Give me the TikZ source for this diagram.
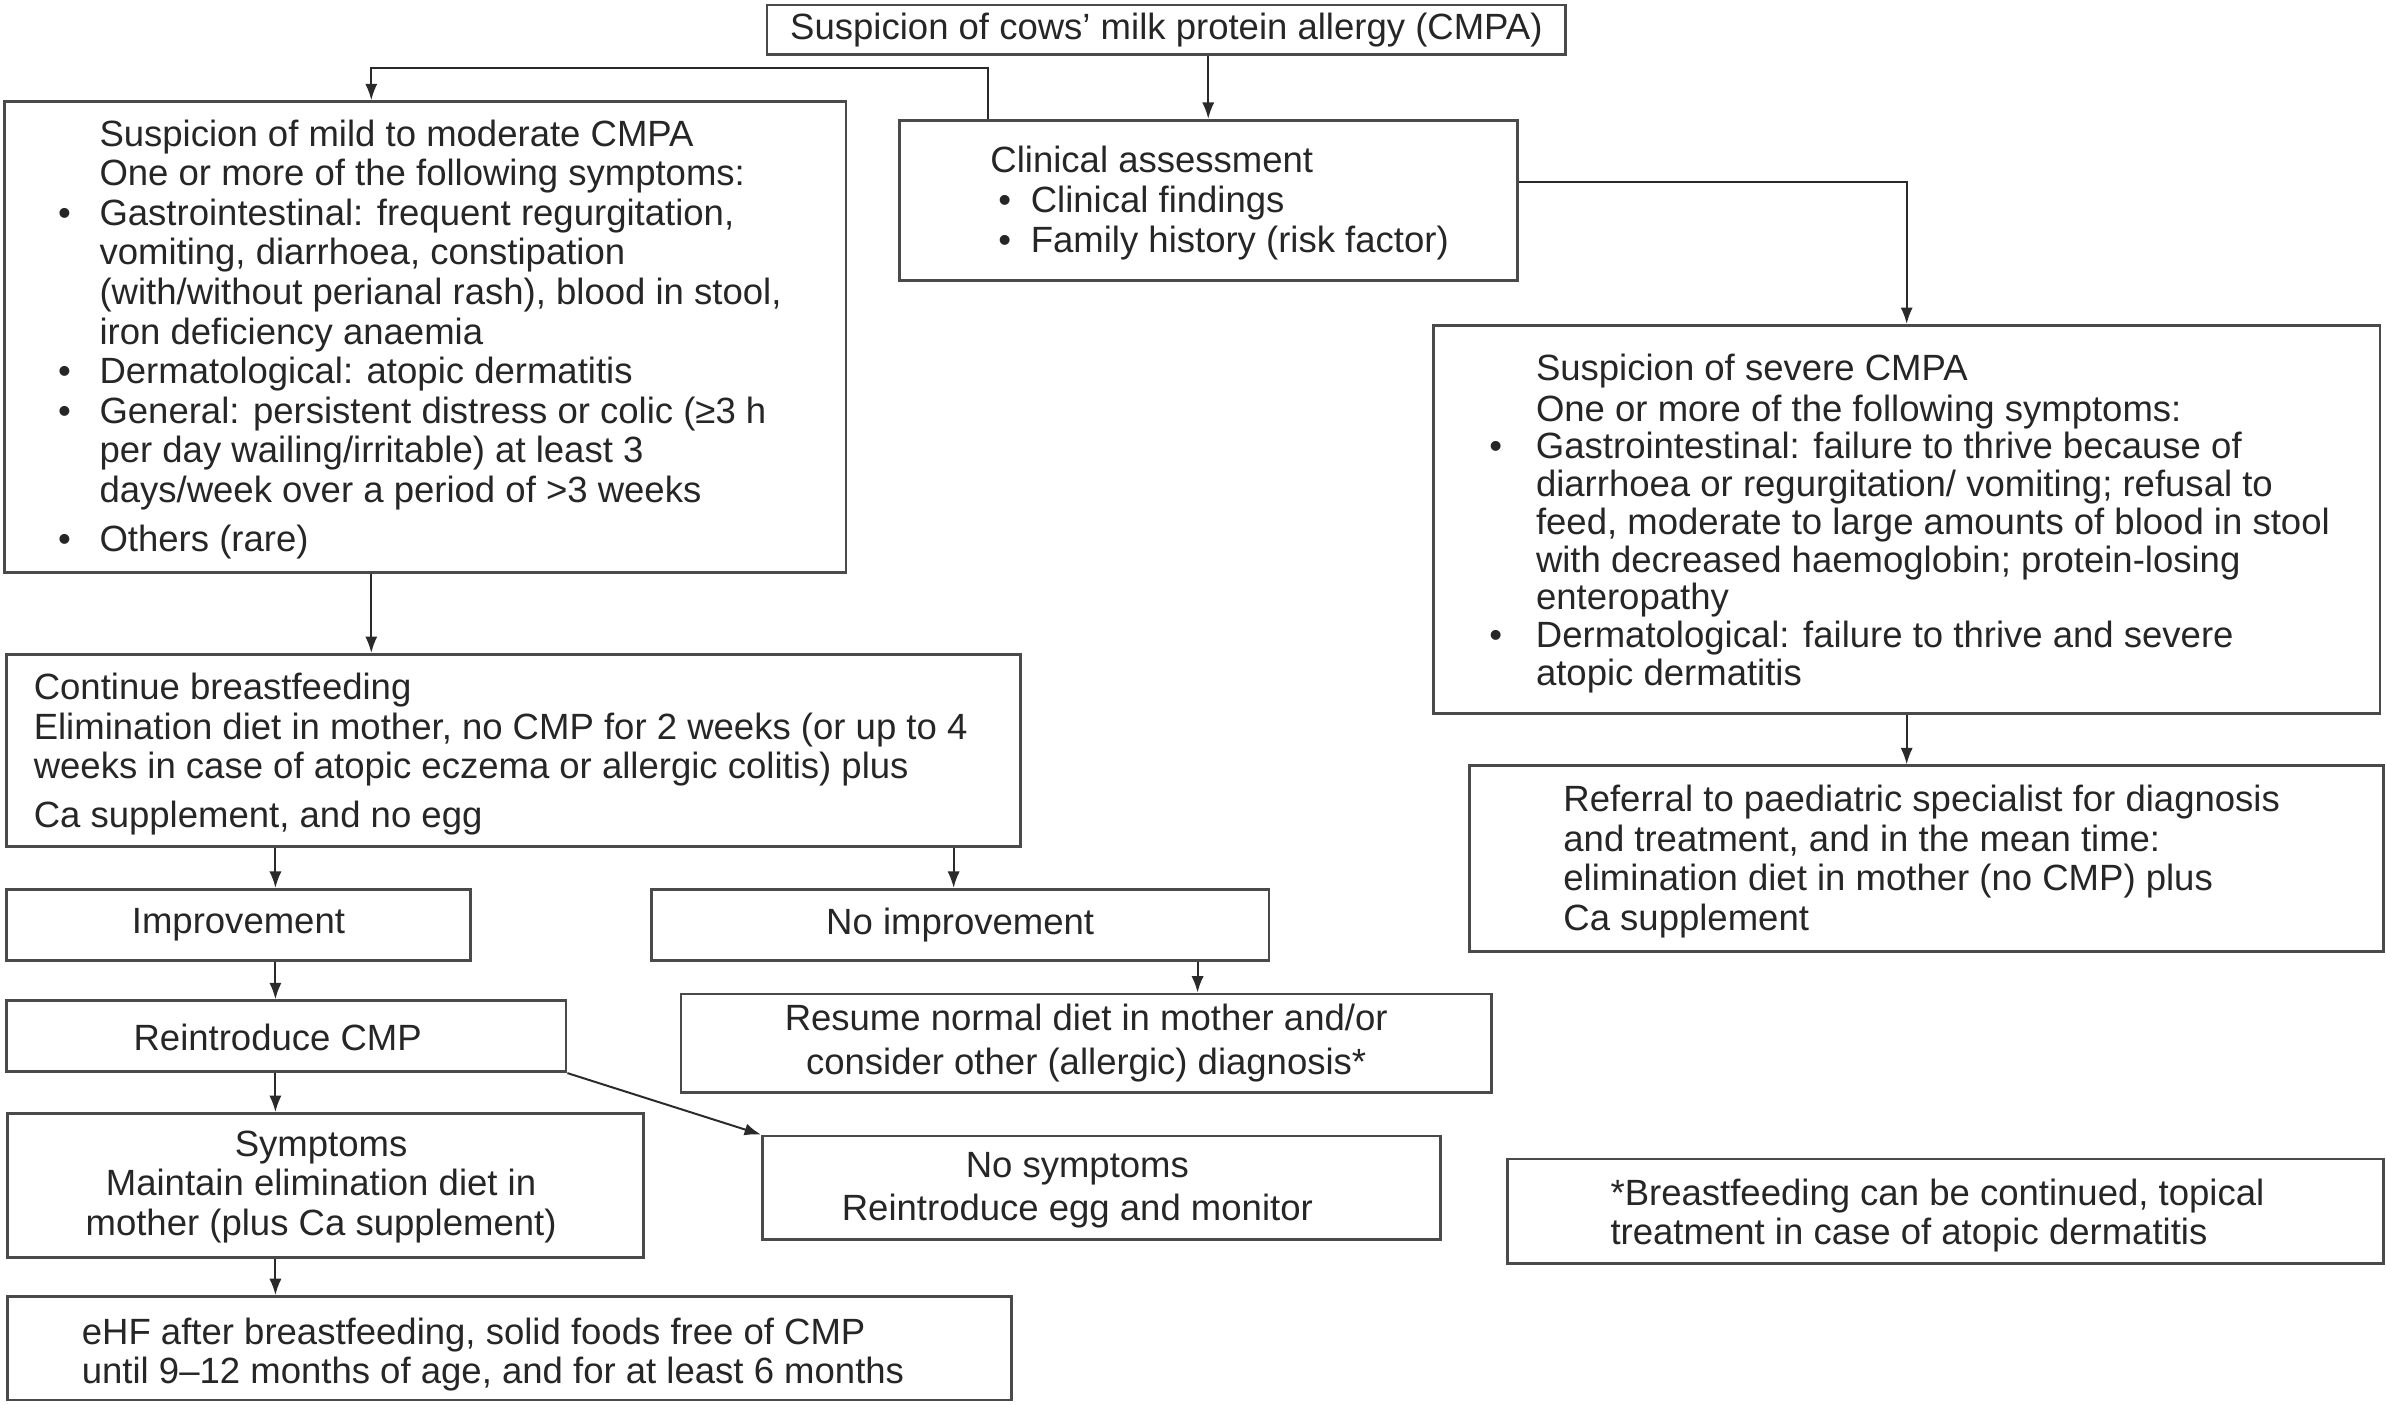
\documentclass[tikz,border=0pt]{standalone}
\usepackage{fontspec}
\setmainfont{Liberation Sans}
\usetikzlibrary{arrows.meta}
\definecolor{boxc}{HTML}{4A4A4A}
\definecolor{txtc}{HTML}{262626}
\definecolor{linec}{HTML}{2A2A2A}
\newcommand{\bulx}[1]{\llap{•\hspace{#1}}}
\newcommand{\cbul}{\makebox[13.25pt][l]{\hspace{2.6pt}•}}
\begin{document}
\begin{tikzpicture}[x=0.5pt,y=-0.5pt,
  box/.style={draw=boxc, line width=0.9pt, inner sep=0pt, rectangle, text=txtc, font=\fontsize{12}{13}\selectfont, align=center},
  tl/.style={anchor=north west, inner sep=0pt, align=left, text=txtc, font=\fontsize{12}{13}\selectfont},
  tc/.style={inner sep=0pt, align=center, text=txtc, font=\fontsize{12}{13}\selectfont},
  arr/.style={draw=linec, line width=0.65pt, -{Latex[length=5.4pt,width=4pt]}}]
\useasboundingbox (0,0) rectangle (1568,923);

% boxes
\node[box, minimum width=262.5pt, minimum height=16.35pt] (top) at (766.5,19.65) {Suspicion of cows' milk protein allergy (CMPA)};

\node[box, minimum width=276.5pt, minimum height=154.6pt] (mild) at (279.5,221.4) {};
\node[tl] (mildt) at (65,77.5) {\strut Suspicion of mild to moderate CMPA\\
One or more of the following symptoms:\\
\bulx{9.4pt}Gastrointestinal: frequent regurgitation,\\
vomiting, diarrhoea, constipation\\
(with/without perianal rash), blood in stool,\\
iron deficiency anaemia\\
\bulx{9.4pt}Dermatological: atopic dermatitis\\
\bulx{9.4pt}General: persistent distress or colic (≥3 h\\
per day wailing/irritable) at least 3\\
days/week over a period of >3 weeks\\[3pt]
\bulx{9.4pt}Others (rare)};

\node[box, minimum width=203pt, minimum height=52.75pt] (clin) at (794,131.75) {};
\node[tl] (clint) at (650.5,95) {\strut Clinical assessment\\
\cbul Clinical findings\\
\cbul Family history (risk factor)};

\node[box, minimum width=311pt, minimum height=127.6pt] (sev) at (1253,341.4) {};
\node[tl, font=\fontsize{12}{12.4}\selectfont] (sevt) at (1009,232.1) {\strut Suspicion of severe CMPA\\
One or more of the following symptoms:\\
\bulx{11.1pt}Gastrointestinal: failure to thrive because of\\
diarrhoea or regurgitation/ vomiting; refusal to\\
feed, moderate to large amounts of blood in stool\\
with decreased haemoglobin; protein-losing\\
enteropathy\\
\bulx{11.1pt}Dermatological: failure to thrive and severe\\
atopic dermatitis};

\node[box, minimum width=300.35pt, minimum height=61.15pt] (ref) at (1266.15,564.35) {};
\node[tl] (reft) at (1027,514.8) {\strut Referral to paediatric specialist for diagnosis\\
and treatment, and in the mean time:\\
elimination diet in mother (no CMP) plus\\
Ca supplement};

\node[box, minimum width=333.05pt, minimum height=63.2pt] (cont) at (337.45,493.2) {};
\node[tl] (contt) at (21.8,441.2) {\strut Continue breastfeeding\\
Elimination diet in mother, no CMP for 2 weeks (or up to 4\\
weeks in case of atopic eczema or allergic colitis) plus\\[3pt]
Ca supplement, and no egg};

\node[box, minimum width=152.3pt, minimum height=23.45pt] (impr) at (156.7,607.85) {Improvement};
\node[box, minimum width=203pt, minimum height=23.45pt] (noimpr) at (631,607.85) {No improvement};

\node[box, minimum width=183.8pt, minimum height=23.35pt] (reint) at (188.2,680.95) {};
\node[tc] (reintt) at (182.5,681.5) {Reintroduce CMP};

\node[box, minimum width=266.2pt, minimum height=32.4pt] (res) at (713.8,685.6) {Resume normal diet in mother and/or\\[1.5pt] consider other (allergic) diagnosis*};

\node[box, minimum width=209pt, minimum height=47.4pt] (sym) at (214,779.1) {};
\node[tc] (symt) at (211,780) {Symptoms\\ Maintain elimination diet in\\ mother (plus Ca supplement)};

\node[box, minimum width=222.75pt, minimum height=33.95pt] (nosym) at (723.75,780.45) {};
\node[tc] (nosymt) at (708,782) {No symptoms\\[1pt] Reintroduce egg and monitor};

\node[box, minimum width=287.85pt, minimum height=34.25pt] (foot) at (1278.65,795.95) {};
\node[tl] (foott) at (1058,773.3) {\strut *Breastfeeding can be continued, topical\\
treatment in case of atopic dermatitis};

\node[box, minimum width=329.85pt, minimum height=34pt] (ehf) at (334.85,886) {};
\node[tl] (ehft) at (53.4,864.8) {\strut eHF after breastfeeding, solid foods free of CMP\\
until 9–12 months of age, and for at least 6 months};

% connectors
\coordinate (c1) at (649,45);
\coordinate (c2) at (244,45);
\coordinate (xa) at (181,0);
\coordinate (xb) at (626.7,0);
\coordinate (xc) at (787,0);
\draw[arr] (clin.north |- top.south) -- (clin.north);
\draw[arr] (c1 |- clin.north) -- (c1) -- (c2) -- (c2 |- mild.north);
\draw[arr] ([yshift=6.1pt]clin.east) -| (sev.north);
\draw[arr] (sev.south) -- (sev.south |- ref.north);
\draw[arr] (c2 |- mild.south) -- (c2 |- cont.north);
\draw[arr] (xa |- cont.south) -- (xa |- impr.north);
\draw[arr] (xb |- cont.south) -- (xb |- noimpr.north);
\draw[arr] (xa |- impr.south) -- (xa |- reint.north);
\draw[arr] (xc |- noimpr.south) -- (xc |- res.north);
\draw[arr] (xa |- reint.south) -- (xa |- sym.north);
\draw[arr] (reint.south east) -- (nosym.north west);
\draw[arr] (xa |- sym.south) -- (xa |- ehf.north);
\end{tikzpicture}
\end{document}
